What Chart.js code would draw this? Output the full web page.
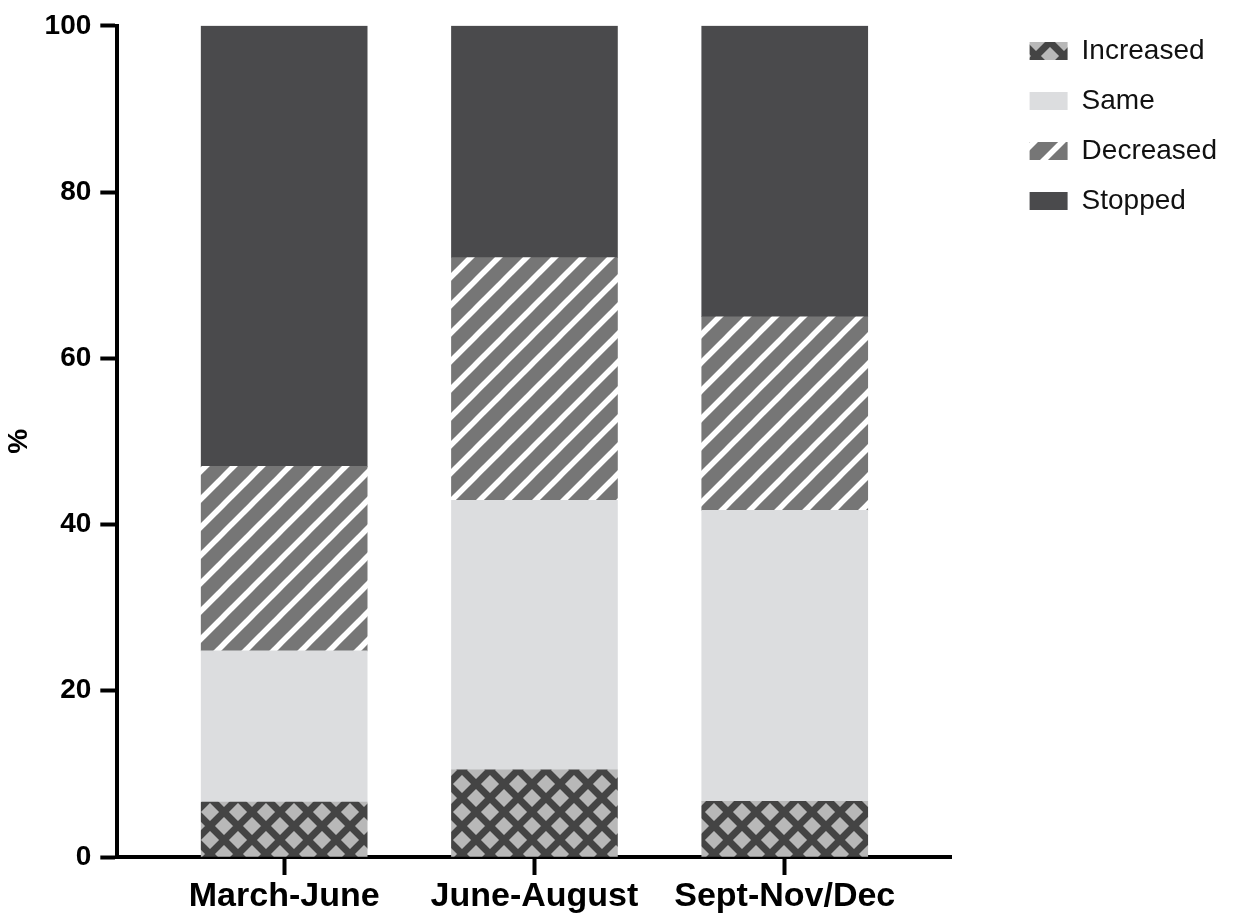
<!DOCTYPE html>
<html>
<head>
<meta charset="utf-8">
<script src="https://cdn.jsdelivr.net/npm/chart.js@4/dist/chart.umd.min.js"></script>
<style>
  html, body { margin: 0; padding: 0; background: #ffffff; }
  #wrap { width: 1237px; height: 920px; }
</style>
</head>
<body>
<div id="wrap"><canvas id="chart"></canvas></div>
<script>
// data
const categories = ["March-June", "June-August", "Sept-Nov/Dec"];
const positions = [1, 2, 3];
const increased = [6.6, 10.5, 6.7];
const same = [18.2, 32.4, 35.0];
const decreased = [22.2, 29.2, 23.3];
const stopped = [53.0, 27.9, 35.0];
const yTicks = [0, 20, 40, 60, 80, 100];

// patterns for the hatched series
function crossPattern() {
    const s = 28;
    const c = document.createElement("canvas");
    c.width = s; c.height = s;
    const ctx = c.getContext("2d");
    ctx.fillStyle = "#b8b8b8";
    ctx.fillRect(0, 0, s, s);
    ctx.strokeStyle = "#444444";
    ctx.lineWidth = 7;
    for (let k = -1; k <= 1; k++) {
        ctx.beginPath();
        ctx.moveTo(k * s - 4, -4);
        ctx.lineTo(k * s + s + 4, s + 4);
        ctx.moveTo(k * s + s + 4, -4);
        ctx.lineTo(k * s - 4, s + 4);
        ctx.stroke();
    }
    return ctx.createPattern(c, "repeat");
}

function stripePattern() {
    const s = 28;
    const c = document.createElement("canvas");
    c.width = s; c.height = s;
    const ctx = c.getContext("2d");
    ctx.fillStyle = "#767676";
    ctx.fillRect(0, 0, s, s);
    ctx.strokeStyle = "#ffffff";
    ctx.lineWidth = 5.5;
    for (let k = -1; k <= 1; k++) {
        ctx.beginPath();
        ctx.moveTo(k * s - 4, s + 4);
        ctx.lineTo(k * s + s + 4, -4);
        ctx.stroke();
    }
    return ctx.createPattern(c, "repeat");
}

function toPoints(values) {
    return values.map((v, i) => ({ x: positions[i], y: v }));
}

const font = "'Liberation Sans', Arial, sans-serif";

new Chart(document.getElementById("chart"), {
    type: "bar",
    data: {
        datasets: [
            { label: "Increased", data: toPoints(increased), backgroundColor: crossPattern() },
            { label: "Same", data: toPoints(same), backgroundColor: "#dcdddf" },
            { label: "Decreased", data: toPoints(decreased), backgroundColor: stripePattern() },
            { label: "Stopped", data: toPoints(stopped), backgroundColor: "#4a4a4c" }
        ]
    },
    options: {
        responsive: true,
        maintainAspectRatio: false,
        animation: false,
        barThickness: 166,
        borderWidth: 0,
        layout: { padding: { top: 15, left: 2, right: 10, bottom: 1 } },
        plugins: {
            tooltip: { enabled: false },
            legend: {
                position: "right",
                align: "start",
                maxWidth: 240,
                labels: {
                    boxWidth: 38,
                    boxHeight: 18,
                    padding: 22,
                    color: "#111111",
                    font: { family: font, size: 28 }
                }
            }
        },
        scales: {
            x: {
                type: "linear",
                stacked: true,
                offset: false,
                min: 1 / 3,
                max: 11 / 3,
                afterBuildTicks: (scale) => { scale.ticks = positions.map(v => ({ value: v })); },
                ticks: {
                    callback: (v) => categories[v - 1],
                    color: "#000000",
                    padding: 5,
                    maxRotation: 0,
                    font: { family: font, size: 34, weight: "bold", lineHeight: 1 }
                },
                grid: { offset: false, drawOnChartArea: false, tickLength: 18, tickWidth: 4, tickColor: "#000000" },
                border: { color: "#000000", width: 4 }
            },
            y: {
                stacked: true,
                min: 0,
                max: 100,
                afterBuildTicks: (scale) => { scale.ticks = yTicks.map(v => ({ value: v })); },
                ticks: {
                    color: "#000000",
                    padding: 9,
                    font: { family: font, size: 28, weight: "bold" }
                },
                title: {
                    display: true,
                    text: "%",
                    color: "#000000",
                    padding: { top: 0, bottom: 0 },
                    font: { family: font, size: 28, weight: "bold" }
                },
                grid: { drawOnChartArea: false, tickLength: 17, tickWidth: 4, tickColor: "#000000" },
                border: { color: "#000000", width: 4 }
            },
            gap: {
                type: "linear",
                position: "right",
                display: true,
                ticks: { display: false },
                grid: { display: false },
                border: { display: false },
                afterFit: (scale) => { scale.width = 56; }
            }
        }
    }
});
</script>
</body>
</html>
